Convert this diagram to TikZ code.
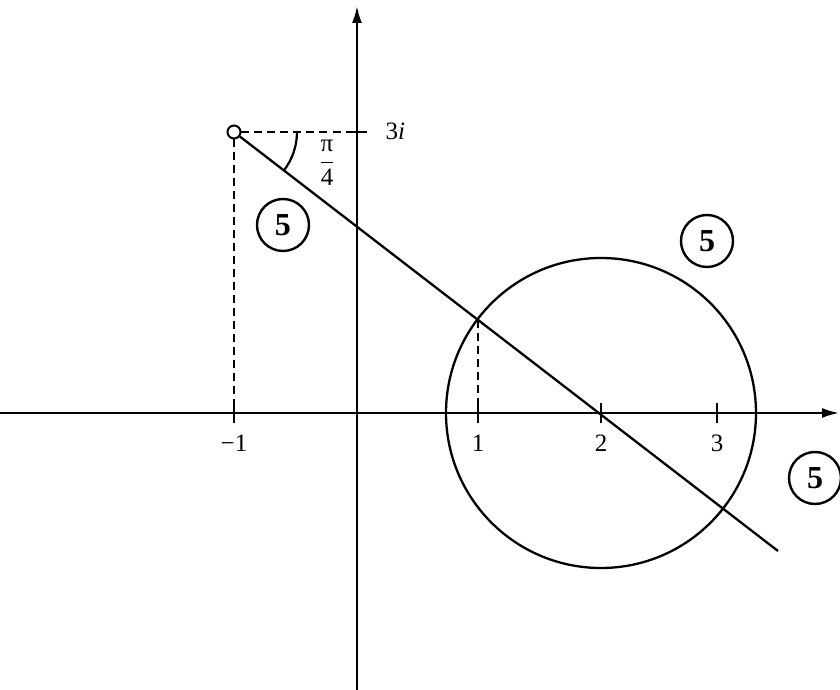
\documentclass[tikz,border=0pt]{standalone}
\usepackage{amsmath}
\usepackage{fontspec}
\setmainfont{Liberation Serif}
\usetikzlibrary{arrows.meta,calc}
\tikzset{
  axis/.style={line width=2.3pt, -{Latex[length=17pt,width=10pt]}},
  guide/.style={line width=2.2pt, dash pattern=on 8pt off 5pt},
  curve/.style={line width=2.3pt},
  tickmark/.style={line width=2.3pt},
  mark5/.style={circle, draw, line width=2.4pt, minimum size=52pt, inner sep=0pt, font=\fontsize{32}{32}\selectfont\bfseries},
  lab/.style={font=\fontsize{25}{28}\selectfont}
}

\begin{document}
\begin{tikzpicture}[x=1pt,y=1pt]
\useasboundingbox (-357,-277) rectangle (483,413);
% axes
\coordinate (O) at (0,0);
\coordinate (xl) at (-357,0); \coordinate (xr) at (482,0);
\coordinate (yb) at (0,-277); \coordinate (yt) at (0,407);
\draw[axis] (xl) -- (xr);
\draw[axis] (yb) -- (yt);
% ticks on the real axis
\foreach \x/\t in {-123/{−1},121/1,244/2,360/3}{
  \draw[tickmark] (\x,-10) -- (\x,10);
  \node[lab] at (\x,-30) {\t};
}
% point -1+3i
\coordinate (Yi) at (0,281);
\node[circle, draw, fill=white, line width=2pt, minimum size=13pt, inner sep=0pt] (P) at (-123,281) {};
\draw[tickmark] ($(Yi)+(-10,0)$) -- ($(Yi)+(10,0)$);
\node[lab, anchor=west] (lbl3i) at (25,282) {3\textit{i}};
\draw[guide] (P.east) -- (Yi);
\draw[guide] (P.south) -- (P |- O);
% half-line and circle
\coordinate (E) at (421,-138);
\coordinate (C) at (244,0);
\coordinate (A) at (121,93);
\draw[curve] (P) -- (E);
\draw[curve] (C) circle (155);
\draw[guide] (A) -- (A |- O);
% angle
\draw[line width=2.2pt] ($(P)+(63,0)$) arc[start angle=0, end angle=-37.6, radius=63];
\node[lab] (ang) at (-30,250) {$\dfrac{\text{π}}{\text{4}}$};
% marks
\node[mark5] (m1) at (-74,188) {5};
\node[mark5] (m2) at (350,172) {5};
\node[mark5] (m3) at (458,-65) {5};
\end{tikzpicture}
\end{document}
